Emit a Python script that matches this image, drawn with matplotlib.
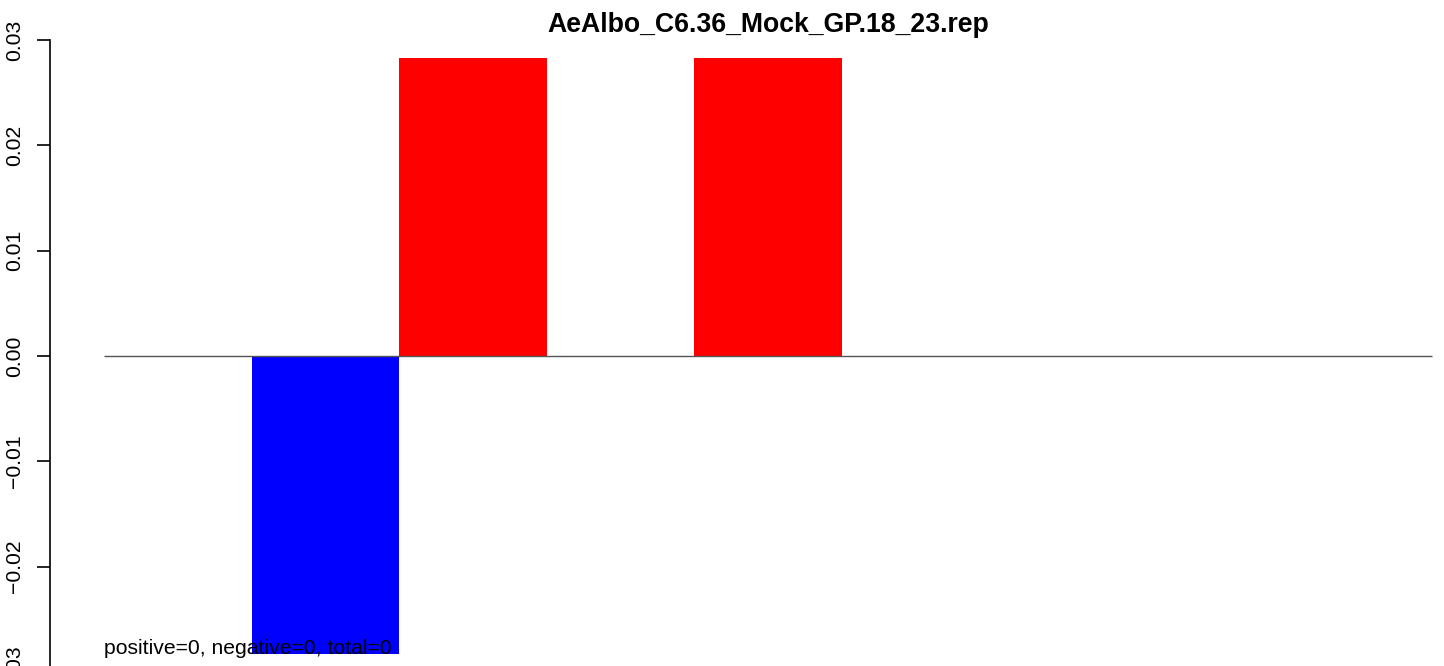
import matplotlib
matplotlib.use("Agg")
import matplotlib.pyplot as plt

plt.rcParams["font.family"] = ["Liberation Sans", "DejaVu Sans"]

title = "AeAlbo_C6.36_Mock_GP.18_23.rep"
values = [0.0, -0.0283, 0.0283, 0.0, 0.0283, 0.0, 0.0, 0.0, 0.0]
yticks = [-0.03, -0.02, -0.01, 0.0, 0.01, 0.02, 0.03]
note = "positive=0, negative=0, total=0"

W, H = 1444, 666
fig = plt.figure(figsize=(W / 100, H / 100), dpi=100)

# axes placed in pixels: y axis line at x=50, y range 0.03 at 40px .. -0.03 at 672px
unit = 147.6
left_px, right_px = 50, W
ax = fig.add_axes([left_px / W, (H - 672) / H, (right_px - left_px) / W, (672 - 40) / H])
x0 = -(104 - left_px) / unit
ax.set_xlim(x0, x0 + (right_px - left_px) / unit)
ax.set_ylim(-0.03, 0.03)

colors = ["red" if v > 0 else "blue" for v in values]
ax.bar(range(len(values)), values, width=1.0, align="edge", color=colors, linewidth=0)
ax.hlines(0, 0, len(values), color="#555555", linewidth=1.0)

for s in ["top", "right", "bottom"]:
    ax.spines[s].set_visible(False)
ax.spines["left"].set_linewidth(1.2)
ax.spines["left"].set_bounds(-0.03, 0.03)
ax.set_xticks([])
ax.set_yticks(yticks)
ax.set_yticklabels([f"{t:.2f}".replace("-", "\u2212") for t in yticks],
                   rotation=90, va="center", fontsize=15.2)
ax.tick_params(axis="y", length=9.5, width=1.2, pad=9)

fig.text(768 / W, 1 - 25 / H, title, ha="center", va="center",
         fontsize=19.2, fontweight="bold")
ax.text(0, -0.0283, note, ha="left", va="baseline", fontsize=15.2)

fig.savefig("out.png", dpi=100)
